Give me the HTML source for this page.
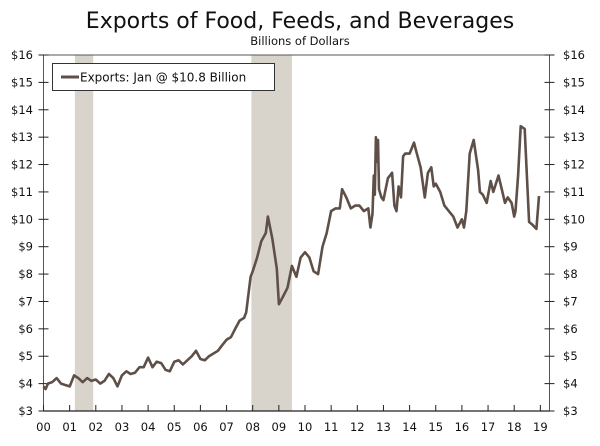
<!DOCTYPE html>
<html><head><meta charset="utf-8"><style>
body{margin:0;background:#fff;}
svg{display:block;font-family:"DejaVu Sans","Liberation Sans",sans-serif;}
</style></head><body>
<svg id="chart" width="600" height="446" viewBox="0 0 600 446">
<text x="300" y="28" text-anchor="middle" font-size="22" fill="#111">Exports of Food, Feeds, and Beverages</text>
<text x="300" y="45" text-anchor="middle" font-size="11.5" fill="#111">Billions of Dollars</text>
<g id="rec"></g><g id="axes"></g><g id="series"></g>
<g>
<rect x="52.5" y="63.5" width="222" height="27" fill="#fff" stroke="#333" stroke-width="1"/>
<line x1="61" y1="77" x2="79" y2="77" stroke="#5e5048" stroke-width="3"/>
<text x="80" y="81.5" font-size="12" fill="#111">Exports: Jan @ $10.8 Billion</text>
</g>
</svg>
<script>
const yearLabels=["00","01","02","03","04","05","06","07","08","09","10","11","12","13","14","15","16","17","18","19"];
const yTicks=[3,4,5,6,7,8,9,10,11,12,13,14,15,16];
const recessions=[[2001.2,2001.9],[2007.95,2009.5]];
const dates=[2000.0,2000.08,2000.17,2000.33,2000.5,2000.67,2000.83,2001.0,2001.17,2001.33,2001.5,2001.67,2001.83,2002.0,2002.17,2002.33,2002.5,2002.67,2002.83,2003.0,2003.17,2003.33,2003.5,2003.67,2003.83,2004.0,2004.17,2004.33,2004.5,2004.67,2004.83,2005.0,2005.17,2005.33,2005.5,2005.67,2005.83,2006.0,2006.17,2006.33,2006.5,2006.67,2006.83,2007.0,2007.17,2007.33,2007.5,2007.67,2007.75,2007.92,2008.0,2008.17,2008.33,2008.5,2008.58,2008.75,2008.92,2009.0,2009.17,2009.33,2009.5,2009.67,2009.83,2010.0,2010.17,2010.33,2010.5,2010.67,2010.83,2011.0,2011.17,2011.33,2011.42,2011.58,2011.75,2011.92,2012.08,2012.25,2012.42,2012.5,2012.58,2012.63,2012.67,2012.71,2012.75,2012.79,2012.83,2012.92,2013.0,2013.17,2013.33,2013.42,2013.5,2013.58,2013.67,2013.75,2013.83,2014.0,2014.17,2014.25,2014.42,2014.58,2014.7,2014.83,2014.92,2015.0,2015.17,2015.33,2015.5,2015.67,2015.83,2016.0,2016.08,2016.17,2016.3,2016.45,2016.62,2016.69,2016.8,2016.95,2017.1,2017.2,2017.4,2017.5,2017.65,2017.75,2017.9,2018.0,2018.05,2018.15,2018.25,2018.4,2018.49,2018.57,2018.7,2018.85,2018.95,2019.02,2019.12];
const values=[3.9,3.8,4.0,4.05,4.2,4.0,3.95,3.9,4.3,4.2,4.05,4.2,4.1,4.15,4.0,4.1,4.35,4.2,3.9,4.3,4.45,4.35,4.4,4.6,4.6,4.95,4.6,4.8,4.75,4.5,4.45,4.8,4.85,4.7,4.85,5.0,5.2,4.9,4.85,5.0,5.1,5.2,5.4,5.6,5.7,6.0,6.3,6.4,6.6,7.9,8.1,8.6,9.2,9.5,10.1,9.3,8.2,6.9,7.2,7.5,8.3,7.9,8.6,8.8,8.6,8.1,8.0,9.0,9.5,10.3,10.4,10.4,11.1,10.8,10.4,10.5,10.5,10.3,10.4,9.7,10.2,11.6,10.9,13.0,12.1,12.9,11.1,10.8,10.7,11.5,11.7,10.5,10.3,11.2,10.8,12.3,12.4,12.4,12.8,12.5,11.9,10.8,11.7,11.9,11.2,11.3,11.0,10.5,10.3,10.1,9.7,10.0,9.7,10.3,12.4,12.9,11.8,11.0,10.9,10.6,11.4,11.0,11.6,11.2,10.6,10.8,10.6,10.1,10.3,11.6,13.4,13.3,11.5,9.9,9.8,9.65,10.85];
const NS="http://www.w3.org/2000/svg";
const X0=43.5,PX=549.5,YT=55,YB=411;
function xs(t){return X0+(t-2000)*26.15;}
function ys(v){return YB-(v-3)*(YB-YT)/13;}
function mk(tag,attrs,parent){const e=document.createElementNS(NS,tag);for(const k in attrs)e.setAttribute(k,attrs[k]);parent.appendChild(e);return e;}
const rec=document.getElementById('rec'),axes=document.getElementById('axes'),ser=document.getElementById('series');
recessions.forEach(r=>{
 const e=mk('rect',{x:xs(r[0]),y:YT,width:xs(r[1])-xs(r[0]),height:YB-YT,fill:'#d9d4cb'},rec);
 
 
});
const fr=mk('path',{d:`M${X0},${YT}H${PX}V${YB}H${X0}Z`,fill:'none',stroke:'#555','stroke-width':1},axes);


const bl=mk('line',{x1:X0,y1:YB,x2:PX,y2:YB,stroke:'#222','stroke-width':1.3},axes);


yTicks.forEach(v=>{
 const y=ys(v);
 mk('line',{x1:X0-5,y1:y,x2:X0+5,y2:y,stroke:'#222'},axes);
 mk('line',{x1:PX-5,y1:y,x2:PX+5,y2:y,stroke:'#222'},axes);
 const l=mk('text',{x:33,y:y+4,'text-anchor':'end','font-size':11.5,fill:'#111'},axes);l.textContent='$'+v;
 
 
 const r=mk('text',{x:563,y:y+4,'font-size':11.5,fill:'#111'},axes);r.textContent='$'+v;
 
 
});
yearLabels.forEach((lab,i)=>{
 const x=xs(2000+i);
 mk('line',{x1:x,y1:YB-6,x2:x,y2:YB,stroke:'#222'},axes);
 const t=mk('text',{x:x,y:YB+20,'text-anchor':'middle','font-size':11.5,fill:'#111'},axes);t.textContent=lab;
 
 
});
const p=mk('path',{d:dates.map((t,i)=>(i?'L':'M')+xs(t).toFixed(1)+','+ys(values[i]).toFixed(1)).join(''),fill:'none',stroke:'#5e5048','stroke-width':2.6,'stroke-linejoin':'round'},ser);


</script>
</body></html>
